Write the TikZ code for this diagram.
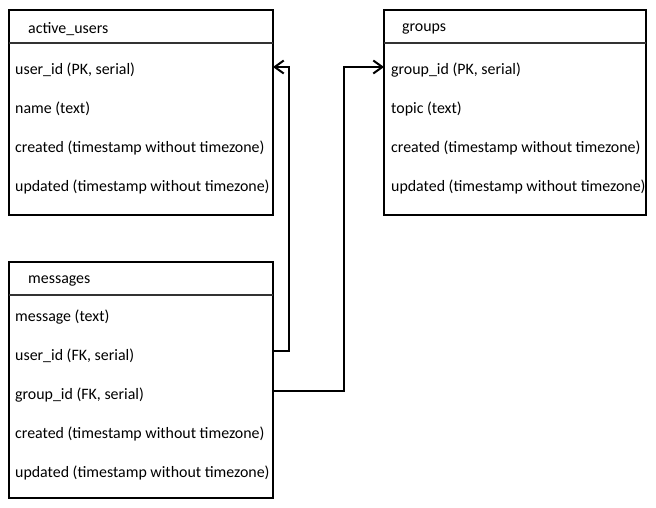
\documentclass[tikz,border=0pt]{standalone}
\usepackage{fontspec}
\setmainfont{Carlito}
\usetikzlibrary{arrows.meta}
\begin{document}
\begin{tikzpicture}[x=1pt,y=-1pt,
  tablebox/.style={draw=black,line width=2pt,anchor=north west,inner sep=0pt,
    outer sep=0pt,minimum width=264pt},
  headrule/.style={draw=black!80,line width=1.5pt},
  title/.style={anchor=west,inner sep=0pt,font=\fontsize{15.9}{18}\selectfont},
  field/.style={anchor=west,inner sep=0pt,font=\fontsize{15.9}{18}\selectfont},
  link/.style={draw=black,line width=2pt,
    -{Straight Barb[length=9pt,width=13pt,line width=2pt]}}]
\useasboundingbox (0,0) rectangle (656,508);

% active_users table
\node[tablebox,minimum height=205pt] (au) at (9,10) {};
\draw[headrule] (au.west |- 0,43) -- (au.east |- 0,43);
\node[title] (aut) at (28,29) {active\_users};
\node[field] (au1) at (15,70) {user\_id (PK, serial)};
\node[field] (au2) at (15,109) {name (text)};
\node[field] (au3) at (15,148) {created (timestamp without timezone)};
\node[field] (au4) at (15,187) {updated (timestamp without timezone)};

% groups table
\node[tablebox,minimum width=262pt,minimum height=205pt] (gr) at (384,10) {};
\draw[headrule] (gr.west |- 0,43) -- (gr.east |- 0,43);
\node[title] (grt) at (402,29) {groups};
\node[field] (gr1) at (391,70) {group\_id (PK, serial)};
\node[field] (gr2) at (391,109) {topic (text)};
\node[field] (gr3) at (391,148) {created (timestamp without timezone)};
\node[field] (gr4) at (391,187) {updated (timestamp without timezone)};

% messages table
\node[tablebox,minimum height=236pt] (ms) at (9,262) {};
\draw[headrule] (ms.west |- 0,295) -- (ms.east |- 0,295);
\node[title] (mst) at (28,281) {messages};
\node[field] (ms1) at (15,317) {message (text)};
\node[field] (ms2) at (15,356) {user\_id (FK, serial)};
\node[field] (ms3) at (15,395) {group\_id (FK, serial)};
\node[field] (ms4) at (15,434) {created (timestamp without timezone)};
\node[field] (ms5) at (15,473) {updated (timestamp without timezone)};

% foreign keys
\draw[link] (ms.east |- 0,351) -- ++(16,0) |- (au.east |- 0,67);
\draw[link] (ms.east |- 0,391) -- ++(71,0) |- (gr.west |- 0,67);
\end{tikzpicture}
\end{document}
